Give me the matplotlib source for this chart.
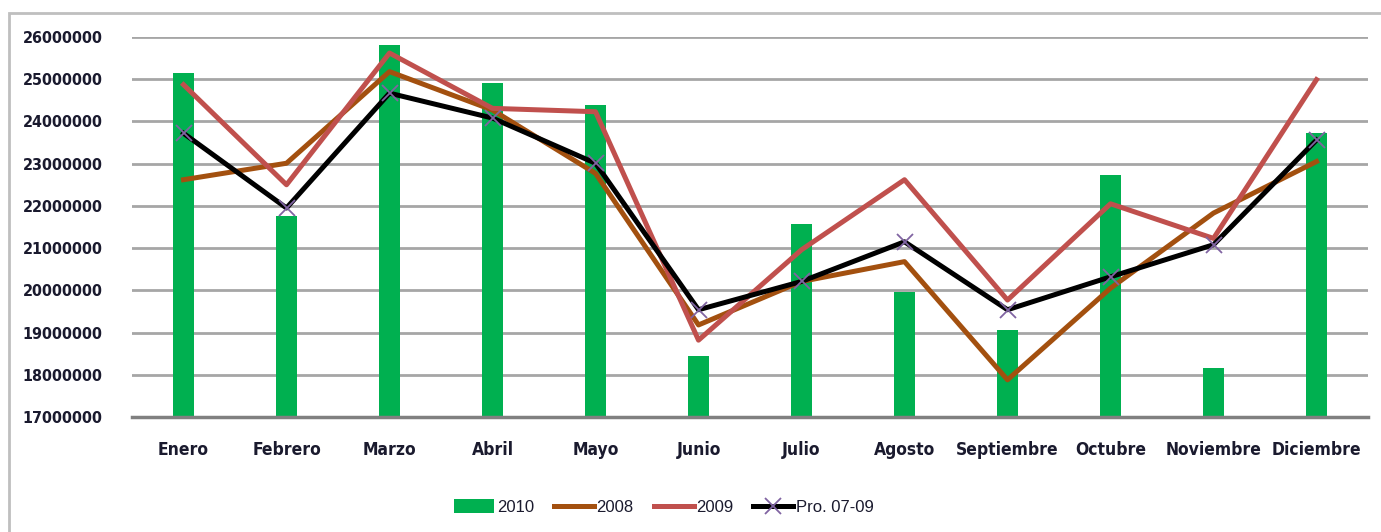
import matplotlib
matplotlib.use("Agg")
import matplotlib.pyplot as plt
from matplotlib.patches import Rectangle
from matplotlib.ticker import FixedLocator
import numpy as np

months = ["Enero", "Febrero", "Marzo", "Abril", "Mayo", "Junio", "Julio",
          "Agosto", "Septiembre", "Octubre", "Noviembre", "Diciembre"]
v2010 = [25150000, 21750000, 25820000, 24910000, 24380000, 18450000,
         21570000, 19970000, 19060000, 22730000, 18170000, 23720000]
v2008 = [22620000, 23010000, 25180000, 24270000, 22770000, 19180000,
         20210000, 20680000, 17880000, 20050000, 21830000, 23050000]
v2009 = [24870000, 22500000, 25620000, 24310000, 24230000, 18820000,
         20960000, 22620000, 19770000, 22050000, 21230000, 24990000]
vpro = [23720000, 21950000, 24670000, 24080000, 23010000, 19540000,
        20210000, 21150000, 19540000, 20320000, 21080000, 23560000]
yticks = [17000000, 18000000, 19000000, 20000000, 21000000, 22000000,
          23000000, 24000000, 25000000, 26000000]

fig = plt.figure(figsize=(13.81, 5.32), dpi=100)
ax = fig.add_axes([132/1381, 1-417/532, (1368-132)/1381, (417-37)/532])

x = np.arange(len(months))
h_bar = ax.bar(x, [v - yticks[0] for v in v2010], bottom=yticks[0], width=0.2,
               color="#00B050", label="2010", zorder=2)
h08, = ax.plot(x, v2008, color="#A3500F", lw=3.6, label="2008", zorder=3)
h09, = ax.plot(x, v2009, color="#C0504D", lw=3.6, label="2009", zorder=4)
hpro, = ax.plot(x, vpro, color="black", lw=3.6, marker="x", markersize=12,
                markeredgecolor="#8064A2", markeredgewidth=1.3,
                label="Pro. 07-09", zorder=5)

ax.set_xlim(-0.5, len(months) - 0.5)
ax.set_ylim(yticks[0], yticks[-1])
ax.yaxis.set_major_locator(FixedLocator(yticks))
ax.set_yticklabels([str(t) for t in yticks])
ax.set_xticks(x)
ax.set_xticklabels(months)

for lab in ax.get_yticklabels():
    lab.set_fontfamily("DejaVu Sans")
    lab.set_fontstretch("condensed")
    lab.set_fontweight("bold")
    lab.set_fontsize(11.5)
    lab.set_color("#1a1a2e")
for lab in ax.get_xticklabels():
    lab.set_fontfamily("DejaVu Sans")
    lab.set_fontstretch("condensed")
    lab.set_fontweight("bold")
    lab.set_fontsize(12.5)
    lab.set_color("#1a1a2e")

ax.tick_params(axis="both", length=0)
ax.tick_params(axis="y", pad=21)
ax.tick_params(axis="x", pad=17)
ax.grid(axis="y", color="#A6A6A6", lw=2, zorder=0)
ax.set_axisbelow(True)
for s in ["top", "right", "left"]:
    ax.spines[s].set_visible(False)
ax.spines["bottom"].set_color("#808080")
ax.spines["bottom"].set_linewidth(2.5)

fig.add_artist(Rectangle((9/1381, -0.1), 1.2, 1.1 - 13/532,
                         transform=fig.transFigure, fill=False,
                         edgecolor="#BFBFBF", lw=2))

leg = fig.legend(handles=[h_bar, h08, h09, hpro],
                 labels=["2010", "2008", "2009", "Pro. 07-09"],
                 loc="center", bbox_to_anchor=(664/1381, 1-507/532),
                 ncol=4, frameon=False, handlelength=2.4, handletextpad=0.15,
                 handleheight=0.9, columnspacing=1.2,
                 prop={"family": "Liberation Sans", "size": 12})
for t in leg.get_texts():
    t.set_color("#1a1a2e")

fig.savefig("out.png", dpi=100)
